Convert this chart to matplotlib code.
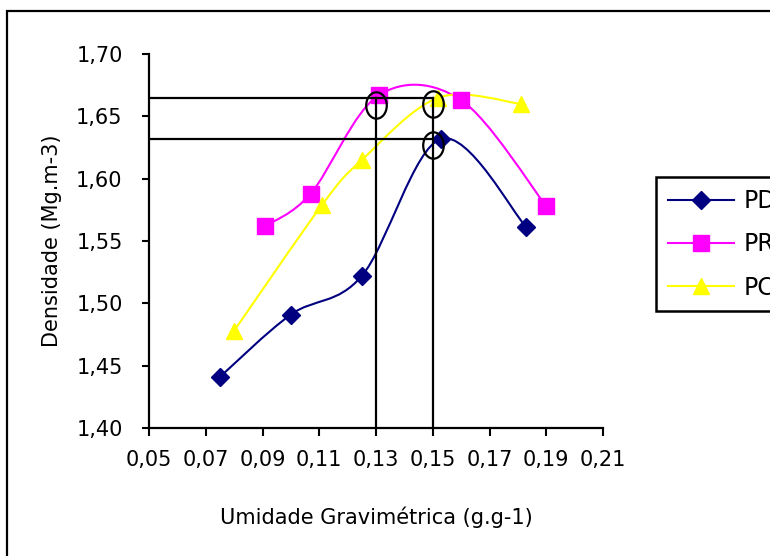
import matplotlib
matplotlib.use("Agg")
import numpy as np
from matplotlib import pyplot as plt
from matplotlib.path import Path
from matplotlib.patches import PathPatch, Rectangle
from matplotlib.lines import Line2D

# dados
pd_x = [0.075, 0.100, 0.125, 0.153, 0.183]
pd_y = [1.441, 1.491, 1.522, 1.632, 1.561]
pr_x = [0.091, 0.107, 0.131, 0.160, 0.190]
pr_y = [1.562, 1.588, 1.667, 1.663, 1.578]
pc_x = [0.080, 0.111, 0.125, 0.152, 0.181]
pc_y = [1.478, 1.579, 1.615, 1.665, 1.660]

# linhas de referência e círculos
ref_h_y = [1.665, 1.632]
ref_v_x = [0.13, 0.15]
circle_x = [0.13, 0.15, 0.15]
circle_y = [1.659, 1.660, 1.627]

x_ticks = [0.05, 0.07, 0.09, 0.11, 0.13, 0.15, 0.17, 0.19, 0.21]
y_ticks = [1.40, 1.45, 1.50, 1.55, 1.60, 1.65, 1.70]

FONT = 15


def smooth_path(xs, ys):
    """Curva suavizada estilo Excel (Catmull-Rom em Bézier cúbica)."""
    pts = np.column_stack([xs, ys])
    ext = np.vstack([pts[0], pts, pts[-1]])
    verts = [pts[0]]
    codes = [Path.MOVETO]
    for i in range(1, len(ext) - 2):
        p0, p1, p2, p3 = ext[i - 1], ext[i], ext[i + 1], ext[i + 2]
        verts += [p1 + (p2 - p0) / 6, p2 - (p3 - p1) / 6, p2]
        codes += [Path.CURVE4] * 3
    return Path(verts, codes)


def fmt(v, nd):
    return f"{v:.{nd}f}".replace(".", ",")


fig = plt.figure(figsize=(7.7, 5.56), dpi=100)
ax = fig.add_axes([149 / 770, 1 - 428 / 556, 454 / 770, 374 / 556])

series = [
    (pd_x, pd_y, "#000080", "D", 9, "PD"),
    (pr_x, pr_y, "#FF00FF", "s", 11, "PR"),
    (pc_x, pc_y, "#FFFF00", "^", 11, "PC"),
]

handles = []
for xs, ys, color, marker, ms, label in series:
    ax.add_patch(PathPatch(smooth_path(xs, ys), fill=False, edgecolor=color,
                           linewidth=1.5, zorder=2))
    ax.plot(xs, ys, linestyle="none", marker=marker, markersize=ms,
            color=color, markeredgecolor=color, zorder=3)
    handles.append(Line2D([], [], color=color, linewidth=1.5, marker=marker,
                          markersize=ms, markeredgecolor=color, label=label))

# linhas pretas de referência
for y in ref_h_y:
    ax.plot([x_ticks[0], ref_v_x[-1]], [y, y], color="black", linewidth=1.6, zorder=4)
ax.plot([ref_v_x[0], ref_v_x[0]], [y_ticks[0], ref_h_y[0]], color="black", linewidth=1.6, zorder=4)
ax.plot([ref_v_x[1], ref_v_x[1]], [y_ticks[0], ref_h_y[0]], color="black", linewidth=1.6, zorder=4)

ellipse = Path.unit_circle().transformed(matplotlib.transforms.Affine2D().scale(0.78, 1.0))
ax.plot(circle_x, circle_y, linestyle="none", marker=ellipse, markersize=19,
        markerfacecolor="none", markeredgecolor="black", markeredgewidth=1.6, zorder=5)

ax.set_xlim(x_ticks[0], x_ticks[-1])
ax.set_ylim(y_ticks[0], y_ticks[-1])
ax.set_xticks(x_ticks)
ax.set_yticks(y_ticks)
ax.set_xticklabels([fmt(v, 2) for v in x_ticks], fontsize=FONT)
ax.set_yticklabels([fmt(v, 2) for v in y_ticks], fontsize=FONT)
ax.tick_params(axis="y", length=5, width=1.5, pad=14)
ax.tick_params(axis="x", length=6, width=1.5, pad=10)

for side in ["top", "right"]:
    ax.spines[side].set_visible(False)
for side in ["left", "bottom"]:
    ax.spines[side].set_linewidth(1.6)

ax.set_xlabel("Umidade Gravimétrica (g.g-1)", fontsize=FONT)
ax.set_ylabel("Densidade (Mg.m-3)", fontsize=FONT, va="center")
ax.xaxis.set_label_coords(0.5, -0.21)
ax.yaxis.set_label_coords(-0.213, 0.5)

# legenda cortada na borda direita, como no original
leg = fig.legend(handles=handles, loc="upper left",
                 bbox_to_anchor=(656 / 770, 1 - 177 / 556), fontsize=17,
                 frameon=True, fancybox=False, edgecolor="black", framealpha=1,
                 handlelength=2.8, handletextpad=0.4, labelspacing=0.82,
                 borderpad=0.5, borderaxespad=0)
leg.get_frame().set_linewidth(1.8)

# moldura do gráfico (cortada à direita e embaixo)
fig.patches.append(Rectangle((7 / 770, -0.1), 1.2, 1 - 11 / 556 + 0.1,
                             transform=fig.transFigure, fill=False,
                             edgecolor="black", linewidth=1.6))

fig.savefig("out.png", dpi=100)
plt.close(fig)
